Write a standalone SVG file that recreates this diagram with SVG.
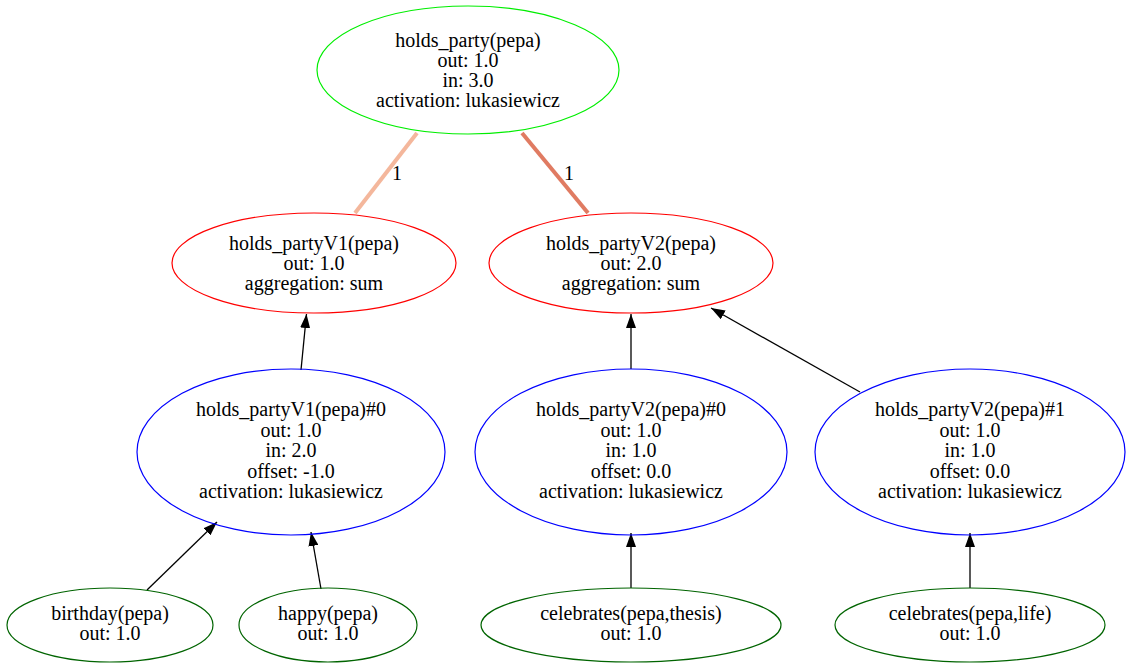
<svg xmlns="http://www.w3.org/2000/svg" width="1130" height="663" viewBox="0 0 1130 663">
<style>
text{font-family:"Liberation Serif","Times New Roman",serif;font-size:20px;text-anchor:middle;fill:#000}
ellipse{fill:none;stroke-width:1.2}
.g{stroke:#00ee00}.r{stroke:#ff0000}.b{stroke:#0000ff}.d{stroke:#006400}
.e{stroke:#000;stroke-width:1.3;fill:none;marker-end:url(#ah)}
</style>
<defs>
<marker id="ah" markerWidth="14" markerHeight="10" refX="14" refY="5" orient="auto" markerUnits="userSpaceOnUse">
<path d="M0,0 L14,5 L0,10 Z" fill="#000"/>
</marker>
</defs>
<rect width="1130" height="663" fill="#fff"/>
<g id="connectors" font-family="Liberation Serif, serif">
<line x1="417" y1="133" x2="355" y2="213" stroke="#f4b79c" stroke-width="4"/>
<text x="397" y="180">1</text>
<line x1="522" y1="133" x2="588" y2="213" stroke="#e07b62" stroke-width="4"/>
<text x="569" y="180">1</text>
<line class="e" x1="301" y1="370" x2="306.5" y2="314"/>
<line class="e" x1="631" y1="369" x2="631" y2="314"/>
<line class="e" x1="860" y1="392" x2="711" y2="308"/>
<line class="e" x1="147" y1="590" x2="217" y2="522"/>
<line class="e" x1="321" y1="589" x2="311" y2="532"/>
<line class="e" x1="631" y1="588" x2="631" y2="533"/>
<line class="e" x1="970" y1="588" x2="970" y2="533"/>
</g>
<g id="holds_party" font-family="Liberation Serif, serif">
<ellipse class="g" cx="468" cy="70" rx="151" ry="64"/>
<text x="468" y="47">holds_party(pepa)</text>
<text x="468" y="67">out: 1.0</text>
<text x="468" y="87">in: 3.0</text>
<text x="468" y="107">activation: lukasiewicz</text>
</g>
<g id="holds_partyV1" font-family="Liberation Serif, serif">
<ellipse class="r" cx="314" cy="263" rx="142" ry="50"/>
<text x="314" y="250">holds_partyV1(pepa)</text>
<text x="314" y="270">out: 1.0</text>
<text x="314" y="290">aggregation: sum</text>
</g>
<g id="holds_partyV2" font-family="Liberation Serif, serif">
<ellipse class="r" cx="631" cy="263" rx="142" ry="50"/>
<text x="631" y="250">holds_partyV2(pepa)</text>
<text x="631" y="270">out: 2.0</text>
<text x="631" y="290">aggregation: sum</text>
</g>
<g id="holds_partyV1_0" font-family="Liberation Serif, serif">
<ellipse class="b" cx="291" cy="452" rx="154" ry="83"/>
<text x="291" y="416">holds_partyV1(pepa)#0</text>
<text x="291" y="436.5">out: 1.0</text>
<text x="291" y="457">in: 2.0</text>
<text x="291" y="477.5">offset: -1.0</text>
<text x="291" y="498">activation: lukasiewicz</text>
</g>
<g id="holds_partyV2_0" font-family="Liberation Serif, serif">
<ellipse class="b" cx="631" cy="452" rx="156" ry="83"/>
<text x="631" y="416">holds_partyV2(pepa)#0</text>
<text x="631" y="436.5">out: 1.0</text>
<text x="631" y="457">in: 1.0</text>
<text x="631" y="477.5">offset: 0.0</text>
<text x="631" y="498">activation: lukasiewicz</text>
</g>
<g id="holds_partyV2_1" font-family="Liberation Serif, serif">
<ellipse class="b" cx="970" cy="452" rx="155" ry="83"/>
<text x="970" y="416">holds_partyV2(pepa)#1</text>
<text x="970" y="436.5">out: 1.0</text>
<text x="970" y="457">in: 1.0</text>
<text x="970" y="477.5">offset: 0.0</text>
<text x="970" y="498">activation: lukasiewicz</text>
</g>
<g id="birthday" font-family="Liberation Serif, serif">
<ellipse class="d" cx="110" cy="625" rx="103" ry="37"/>
<text x="110" y="620">birthday(pepa)</text>
<text x="110" y="640">out: 1.0</text>
</g>
<g id="happy" font-family="Liberation Serif, serif">
<ellipse class="d" cx="328" cy="625" rx="89" ry="37"/>
<text x="328" y="620">happy(pepa)</text>
<text x="328" y="640">out: 1.0</text>
</g>
<g id="celebrates_thesis" font-family="Liberation Serif, serif">
<ellipse class="d" cx="631" cy="625" rx="150" ry="37"/>
<text x="631" y="620">celebrates(pepa,thesis)</text>
<text x="631" y="640">out: 1.0</text>
</g>
<g id="celebrates_life" font-family="Liberation Serif, serif">
<ellipse class="d" cx="970" cy="625" rx="135" ry="37"/>
<text x="970" y="620">celebrates(pepa,life)</text>
<text x="970" y="640">out: 1.0</text>
</g>
</svg>
